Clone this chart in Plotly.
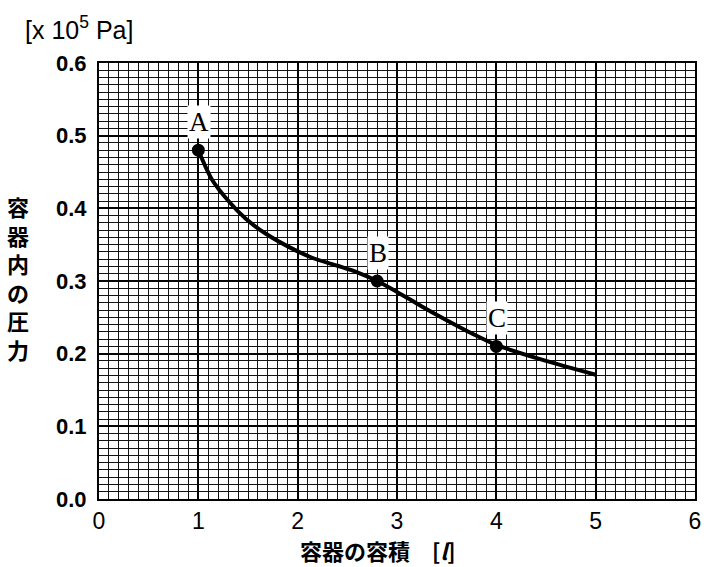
import plotly.graph_objects as go

# Curve
curve_x = [1.0, 1.14, 1.31, 1.475, 1.68, 1.91, 2.145, 2.4, 2.6, 2.8, 3.0, 3.25, 3.5, 3.75, 4.0, 4.5, 5.0]
curve_y = [0.48, 0.439, 0.409, 0.386, 0.365, 0.347, 0.332, 0.321, 0.312, 0.30, 0.285, 0.265, 0.246, 0.228, 0.212, 0.190, 0.171]

# Marked states
point_names = ["A", "B", "C"]
point_x = [1.0, 2.8, 4.0]
point_y = [0.48, 0.30, 0.21]

x_ticks = [0, 1, 2, 3, 4, 5, 6]
y_ticks = [0.0, 0.1, 0.2, 0.3, 0.4, 0.5, 0.6]
y_ticklabels = ["0.0", "0.1", "0.2", "0.3", "0.4", "0.5", "0.6"]

W, H = 708, 567
L, R, T, B = 99, 7, 63, 68
PW, PH = W - L - R, H - T - B


def px_x(px):
    return (px - L) / PW


def px_y(py):
    return (H - B - py) / PH


fig = go.Figure()
fig.add_trace(go.Scatter(x=curve_x, y=curve_y, mode="lines",
                         line=dict(color="black", width=4, shape="spline", smoothing=0.8),
                         hoverinfo="skip", showlegend=False))
fig.add_trace(go.Scatter(x=point_x, y=point_y, mode="markers",
                         marker=dict(color="black", size=13),
                         hoverinfo="skip", showlegend=False))

for name, px, py in zip(point_names, point_x, point_y):
    fig.add_annotation(x=px, y=py, text=name, showarrow=False,
                       yshift=28, xshift=1,
                       font=dict(family="Liberation Serif", size=27, color="black"),
                       bgcolor="white", borderpad=1)

cjk = "Noto Sans CJK JP"
fig.add_annotation(xref="paper", yref="paper", x=px_x(17), y=px_y(277),
                   text="<br>".join(list("容器内の圧力")), showarrow=False,
                   xanchor="center", yanchor="middle",
                   font=dict(family=cjk, size=22, color="black", weight="bold"))
fig.add_annotation(xref="paper", yref="paper", x=px_x(22), y=px_y(28),
                   text="[x 10<sup>5</sup> Pa]", showarrow=False,
                   xanchor="left", yanchor="middle",
                   font=dict(family="Liberation Sans", size=25, color="black"))
fig.add_annotation(xref="paper", yref="paper", x=px_x(381), y=px_y(550),
                   text="容器の容積　[<i>l</i>]", showarrow=False,
                   xanchor="center", yanchor="middle",
                   font=dict(family=cjk, size=22, color="black", weight="bold"))

fig.update_layout(
    width=W, height=H,
    margin=dict(l=L, r=R, t=T, b=B),
    paper_bgcolor="white", plot_bgcolor="white",
    xaxis=dict(range=[0, 6], tickvals=x_ticks, ticks="",
               showgrid=True, gridcolor="black", gridwidth=2,
               minor=dict(dtick=0.1, showgrid=True, gridcolor="#111111", gridwidth=1),
               showline=True, linecolor="black", linewidth=2, mirror=True,
               zeroline=False, ticklabelstandoff=0,
               tickfont=dict(family="Liberation Sans", size=23, color="black")),
    yaxis=dict(range=[0, 0.6], tickvals=y_ticks, ticktext=y_ticklabels, ticks="",
               showgrid=True, gridcolor="black", gridwidth=2,
               minor=dict(dtick=0.01, showgrid=True, gridcolor="#111111", gridwidth=1),
               showline=True, linecolor="black", linewidth=2, mirror=True,
               zeroline=False, ticklabelstandoff=6,
               tickfont=dict(family="Liberation Sans", size=22, color="black", weight="bold")),
)

fig.write_html("out.html", config={"displayModeBar": False},
               post_script="document.body.style.margin='0';document.body.style.overflow='hidden';")
